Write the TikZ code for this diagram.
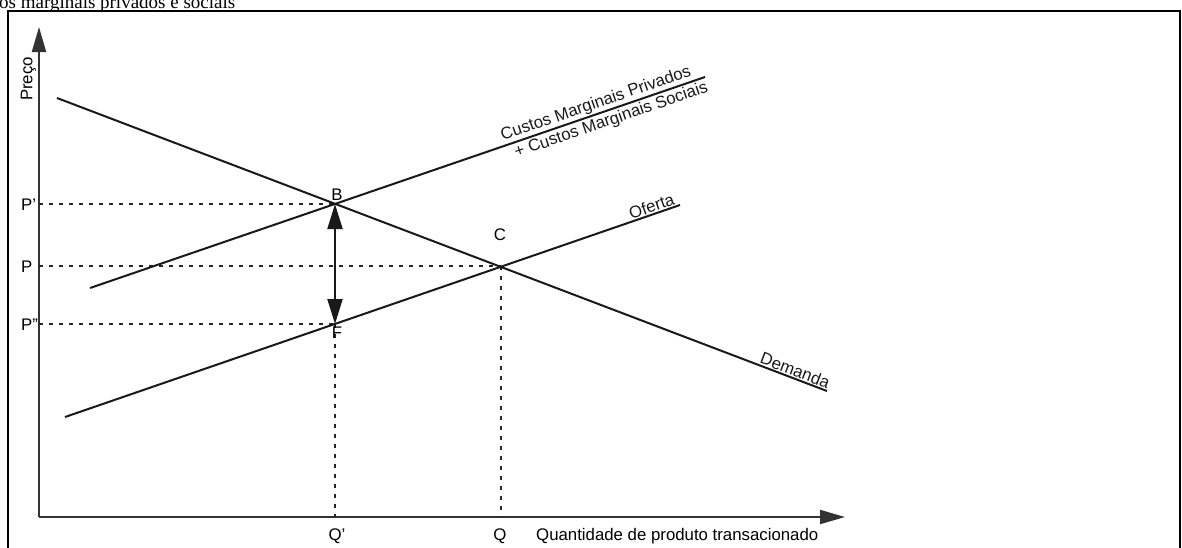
\documentclass[tikz,border=0pt]{standalone}
\usepackage{fontspec}
\setmainfont{Liberation Sans}
\newfontfamily\headserif{Liberation Serif}
\usetikzlibrary{arrows.meta}
\begin{document}
\begin{tikzpicture}[x=1pt,y=-1pt,
  curve/.style={line width=2pt, black!90},
  axisline/.style={line width=2pt, black!80},
  guide/.style={line width=1.9pt, dash pattern=on 4pt off 6pt, black!85},
  lbl/.style={font=\fontsize{16.8}{19}\selectfont, inner sep=0pt},
  bigtip/.style={-{Triangle[length=25pt,width=14pt]}},
  dbltip/.style={{Triangle[length=25pt,width=15pt]}-{Triangle[length=25pt,width=15pt]}}
]
\useasboundingbox (0,0) rectangle (1182,547);

% caption line above the frame
\node[anchor=base west, inner sep=0pt, font=\headserif\fontsize{19}{21}\selectfont] (head) at (-1,8.5) {os marginais privados e sociais};

% frame
\draw[line width=2pt] (8,560) -- (8,11) -- (1180,11) -- (1180,560);

% axes
\coordinate (O) at (39,517);
\coordinate (ytip) at (39,27);
\coordinate (xtip) at (845,517);
\draw[axisline, bigtip] (O) -- (ytip);
\draw[axisline, bigtip] (O) -- (xtip);

% key points
\coordinate (B) at (335,204);
\coordinate (C) at (501,266);
\coordinate (F) at (335,324);
\coordinate (yB) at (39,204);
\coordinate (yC) at (39,266);
\coordinate (yF) at (39,324);
\coordinate (xF) at (335,517);
\coordinate (xC) at (501,517);

% guide lines
\draw[guide] (yB) -- (B);
\draw[guide] (yC) -- (C);
\draw[guide] (yF) -- (F);
\draw[guide] (F) -- (xF);
\draw[guide] (C) -- (xC);

% curves
\coordinate (d1) at (57,98);
\coordinate (d2) at (827,391);
\coordinate (s1) at (90,288);
\coordinate (s2) at (705,77);
\coordinate (o1) at (65,417);
\coordinate (o2) at (680,205);

\draw[curve] (d1) -- (d2)
  node[pos=0.955, sloped, anchor=south, lbl, inner sep=1pt] (demanda) {Demanda};
\draw[curve] (s1) -- (s2)
  node[pos=0.828, sloped, anchor=south, lbl, inner sep=1pt] (cmp) {Custos Marginais Privados}
  node[pos=0.842, sloped, anchor=north, lbl, inner sep=2pt] (cms) {+ Custos Marginais Sociais};
\draw[curve] (o1) -- (o2)
  node[pos=0.958, sloped, anchor=south, lbl, inner sep=1pt] (oferta) {Oferta};

% wedge between B and F
\draw[curve, dbltip] (B) -- (F);

% labels
\node[lbl, rotate=90] (preco) at (28.5,79) {Preço};
\node[lbl, anchor=west] (lP1) at (21,205) {P'};
\node[lbl, anchor=west] (lP) at (21,267) {P};
\node[lbl, anchor=west] (lP2) at (21,325) {P''};
\node[lbl] (lB) at (337,195) {B};
\node[lbl] (lC) at (500,235) {C};
\node[lbl] (lF) at (337,333) {F};
\node[lbl] (lQ1) at (337,536) {Q'};
\node[lbl] (lQ) at (500,536) {Q};
\node[lbl, anchor=west] (xlab) at (536,536) {Quantidade de produto transacionado};
\end{tikzpicture}
\end{document}
